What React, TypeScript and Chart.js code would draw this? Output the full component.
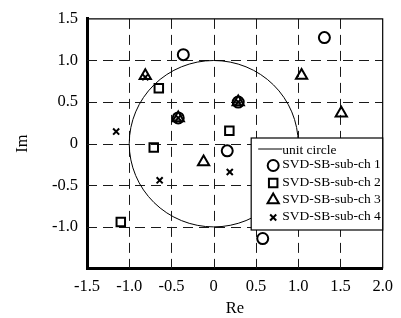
import React, { useEffect, useRef } from "react";
import { Chart, registerables } from "chart.js";

Chart.register(...registerables);

// ---- data ----
const xMin = -1.5;
const xMax = 2.0;
const yMin = -1.5;
const yMax = 1.5;
const tickStep = 0.5;
const circleRadius = 1.0;

const seriesNames = [
  "SVD-SB-sub-ch 1",
  "SVD-SB-sub-ch 2",
  "SVD-SB-sub-ch 3",
  "SVD-SB-sub-ch 4",
];
const circleLabel = "unit circle";

const ch1X = [-0.36, 1.31, 0.16, 0.58, -0.42, 0.29];
const ch1Y = [1.07, 1.275, -0.086, -1.14, 0.31, 0.5];

const ch2X = [-0.65, 0.185, -0.71, -1.1];
const ch2Y = [0.667, 0.157, -0.047, -0.94];

const ch3X = [-0.81, 1.04, 1.51, -0.12, -0.42, 0.29];
const ch3Y = [0.816, 0.82, 0.365, -0.22, 0.31, 0.5];

const ch4X = [-1.155, -0.64, 0.19, -0.81, -0.42, 0.29];
const ch4Y = [0.146, -0.44, -0.34, 0.8, 0.31, 0.5];

const FONT = '"Liberation Serif", "Times New Roman", Times, serif';

const toPts = (xs: number[], ys: number[]) => xs.map((x, i) => ({ x, y: ys[i] }));

const styles = ["circle", "rect", "triangle", "crossRot"] as const;
const radii = [5.5, 6, 6.5, 4.3];

function drawMarker(ctx: CanvasRenderingContext2D, style: string, x: number, y: number, r: number) {
  ctx.beginPath();
  if (style === "circle") {
    ctx.arc(x, y, r, 0, Math.PI * 2);
  } else if (style === "rect") {
    const s = Math.SQRT1_2 * r;
    ctx.rect(x - s, y - s, 2 * s, 2 * s);
  } else if (style === "triangle") {
    for (let k = 0; k < 3; k++) {
      const a = -Math.PI / 2 + (k * 2 * Math.PI) / 3;
      const px = x + Math.cos(a) * r;
      const py = y + Math.sin(a) * r;
      if (k === 0) ctx.moveTo(px, py);
      else ctx.lineTo(px, py);
    }
    ctx.closePath();
  } else {
    const d = Math.SQRT1_2 * r;
    ctx.moveTo(x - d, y - d);
    ctx.lineTo(x + d, y + d);
    ctx.moveTo(x + d, y - d);
    ctx.lineTo(x - d, y + d);
  }
  ctx.stroke();
}

const decor = {
  id: "decor",
  beforeDatasetsDraw(chart: any) {
    const { ctx, scales, chartArea } = chart;
    const x = scales.x;
    const y = scales.y;
    const { left, top, right, bottom } = chartArea;
    ctx.save();
    // dashed grid
    ctx.strokeStyle = "#1a1a1a";
    ctx.lineWidth = 1;
    ctx.setLineDash([10, 6]);
    for (const t of x.ticks) {
      if (t.value <= xMin + 1e-9 || t.value >= xMax - 1e-9) continue;
      const px = Math.round(x.getPixelForValue(t.value)) + 0.5;
      ctx.beginPath();
      ctx.moveTo(px, top);
      ctx.lineTo(px, bottom);
      ctx.stroke();
    }
    for (const t of y.ticks) {
      if (t.value <= yMin + 1e-9 || t.value >= yMax - 1e-9) continue;
      const py = Math.round(y.getPixelForValue(t.value)) + 0.5;
      ctx.beginPath();
      ctx.moveTo(left, py);
      ctx.lineTo(right, py);
      ctx.stroke();
    }
    ctx.setLineDash([]);
    // unit circle
    const cx = x.getPixelForValue(0);
    const cy = y.getPixelForValue(0);
    const rx = Math.abs(x.getPixelForValue(circleRadius) - cx);
    const ry = Math.abs(y.getPixelForValue(circleRadius) - cy);
    ctx.beginPath();
    ctx.ellipse(cx, cy, rx, ry, 0, 0, Math.PI * 2);
    ctx.lineWidth = 1;
    ctx.strokeStyle = "#000";
    ctx.stroke();
    ctx.restore();
  },
  afterDraw(chart: any) {
    const { ctx, chartArea } = chart;
    const { left, top, right, bottom } = chartArea;
    ctx.save();
    // thin frame top/right
    ctx.strokeStyle = "#000";
    ctx.lineWidth = 1.2;
    ctx.beginPath();
    ctx.moveTo(left, top);
    ctx.lineTo(right, top);
    ctx.lineTo(right, bottom);
    ctx.stroke();

    // legend box
    const bx0 = right - 131.5;
    const bx1 = right;
    const by0 = bottom - 130.5;
    const by1 = bottom - 38.5;
    ctx.fillStyle = "#fff";
    ctx.fillRect(bx0, by0, bx1 - bx0, by1 - by0);
    ctx.lineWidth = 1.2;
    ctx.strokeRect(bx0, by0, bx1 - bx0, by1 - by0);

    ctx.font = `13.5px ${FONT}`;
    ctx.fillStyle = "#000";
    ctx.textAlign = "left";
    ctx.textBaseline = "middle";
    const textX = bx0 + 31;
    const rows = [by0 + 11, by0 + 26.5, by0 + 44, by0 + 61, by0 + 78.5];
    // unit circle line sample
    ctx.lineWidth = 1;
    ctx.beginPath();
    ctx.moveTo(bx0 + 7, rows[0]);
    ctx.lineTo(textX, rows[0]);
    ctx.stroke();
    ctx.fillText(circleLabel, textX, rows[0] + 1);
    ctx.lineWidth = 2;
    for (let i = 0; i < seriesNames.length; i++) {
      drawMarker(ctx, styles[i], bx0 + 22, rows[i + 1] + 1, radii[i]);
      ctx.fillText(seriesNames[i], textX, rows[i + 1]);
    }
    ctx.restore();
  },
};

function fmt(v: number) {
  if (Math.abs(v) < 1e-9) return "0";
  return v.toFixed(1);
}

export default function App() {
  const ref = useRef<HTMLCanvasElement | null>(null);
  useEffect(() => {
    document.body.style.margin = "0";
    const canvas = ref.current!;
    const dataSets = [
      toPts(ch1X, ch1Y),
      toPts(ch2X, ch2Y),
      toPts(ch3X, ch3Y),
      toPts(ch4X, ch4Y),
    ];
    const chart = new Chart(canvas, {
      type: "scatter",
      data: {
        datasets: dataSets.map((d, i) => ({
          label: seriesNames[i],
          data: d,
          pointStyle: styles[i],
          pointRadius: radii[i],
          pointHoverRadius: radii[i],
          borderColor: "#000",
          backgroundColor: "rgba(0,0,0,0)",
          borderWidth: 2,
          pointBorderWidth: 2,
        })),
      },
      options: {
        responsive: false,
        animation: false,
        events: [],
        layout: { padding: { top: 14, right: 18, left: 0, bottom: 0 } },
        plugins: {
          legend: { display: false },
          tooltip: { enabled: false },
        },
        scales: {
          x: {
            type: "linear",
            min: xMin,
            max: xMax,
            afterFit: (s: any) => {
              s.height = 49.5;
            },
            afterBuildTicks: (s: any) => {
              const t = [];
              for (let v = xMin; v <= xMax + 1e-9; v += tickStep) t.push({ value: Math.round(v * 10) / 10 });
              s.ticks = t;
            },
            ticks: {
              callback: (v: any) => fmt(Number(v)),
              font: { family: FONT, size: 16.5 },
              color: "#000",
              padding: 8,
              maxRotation: 0,
              autoSkip: false,
            },
            grid: { display: false, drawTicks: false },
            border: { display: true, color: "#000", width: 3 },
            title: {
              display: true,
              text: "Re",
              font: { family: FONT, size: 16.5 },
              color: "#000",
              padding: { top: 0, bottom: -1 },
            },
          },
          y: {
            type: "linear",
            min: yMin,
            max: yMax,
            afterFit: (s: any) => {
              s.width = 87;
            },
            afterBuildTicks: (s: any) => {
              const t = [];
              for (let v = yMin; v <= yMax + 1e-9; v += tickStep) t.push({ value: Math.round(v * 10) / 10 });
              s.ticks = t;
            },
            ticks: {
              callback: (v: any) => (Number(v) === yMin ? "" : fmt(Number(v))),
              font: { family: FONT, size: 16.5 },
              color: "#000",
              padding: 9,
              autoSkip: false,
            },
            grid: { display: false, drawTicks: false },
            border: { display: true, color: "#000", width: 3 },
            title: {
              display: true,
              text: "Im",
              font: { family: FONT, size: 16.5 },
              color: "#000",
              padding: { top: 13, bottom: 0 },
            },
          },
        },
      },
      plugins: [decor],
    });
    return () => chart.destroy();
  }, []);
  return (
    <div style={{ width: 401, height: 318 }}>
      <canvas ref={ref} width={401} height={318} style={{ display: "block" }} />
    </div>
  );
}
